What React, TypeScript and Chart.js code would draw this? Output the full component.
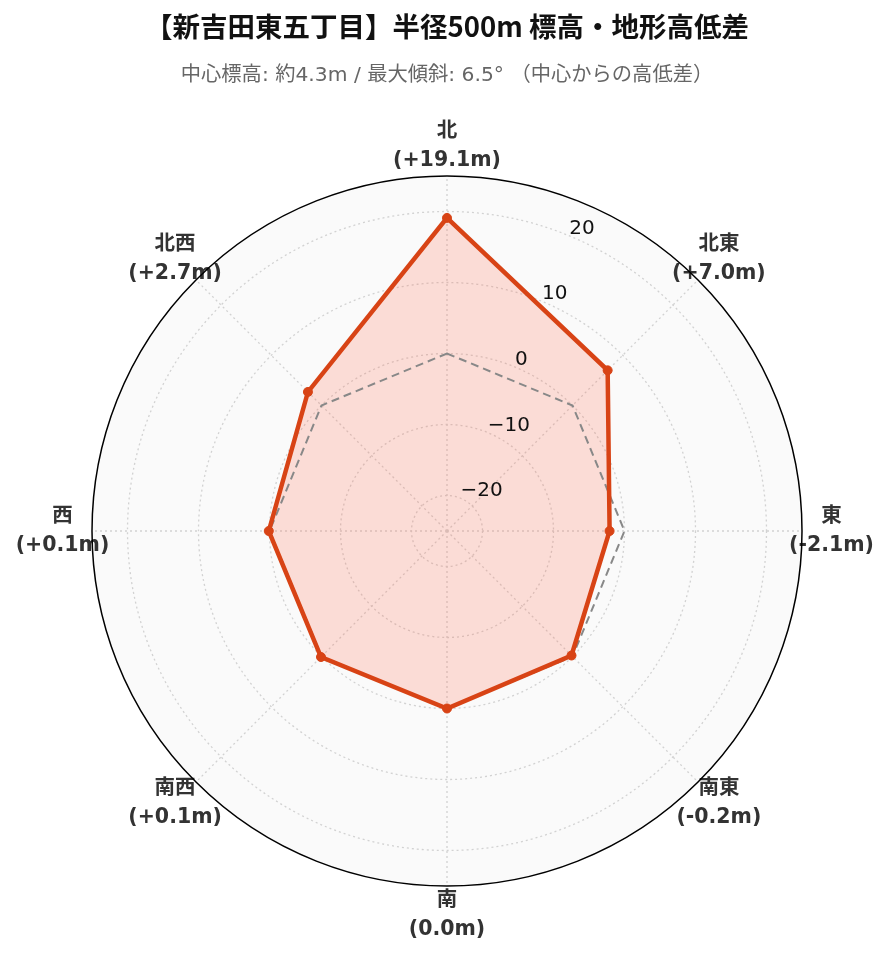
import React, { useEffect, useRef } from 'react';
import { Chart, registerables } from 'chart.js';

Chart.register(...registerables);

const titleText = '【新吉田東五丁目】半径500m 標高・地形高低差';
const subtitleText = '中心標高: 約4.3m / 最大傾斜: 6.5° （中心からの高低差）';
const directions = ['北', '北東', '東', '南東', '南', '南西', '西', '北西'];
const elevationDiff = [19.1, 7.0, -2.1, -0.2, 0.0, 0.1, 0.1, 2.7];
const centerReference = [0, 0, 0, 0, 0, 0, 0, 0];
const radialTicks = [-20, -10, 0, 10, 20];
const radialMin = -25;
const radialMax = 25;

const fmtTick = (v: number) => (v < 0 ? '\u2212' + Math.abs(v) : String(v));
const fmtDiff = (v: number) => `(${v > 0 ? '+' : ''}${v.toFixed(1)}m)`;

const polarDecor = {
  id: 'polarDecor',
  beforeDraw(chart: any) {
    const s = chart.scales.r;
    const ctx = chart.ctx;
    const R = s.getDistanceFromCenterForValue(radialMax);
    ctx.save();
    ctx.beginPath();
    ctx.arc(s.xCenter, s.yCenter, R, 0, Math.PI * 2);
    ctx.fillStyle = '#fafafa';
    ctx.fill();
    ctx.restore();
  },
  afterDatasetsDraw(chart: any) {
    const s = chart.scales.r;
    const ctx = chart.ctx;
    const R = s.getDistanceFromCenterForValue(radialMax);
    ctx.save();
    // radial tick labels along 22.5deg
    ctx.font = '20px "DejaVu Sans", sans-serif';
    ctx.fillStyle = '#111';
    ctx.textAlign = 'left';
    ctx.textBaseline = 'alphabetic';
    const tickAngle = s.getIndexAngle(0) - Math.PI / 2 + Math.PI / 8;
    radialTicks.forEach((v) => {
      const d = s.getDistanceFromCenterForValue(v);
      const x = s.xCenter + Math.cos(tickAngle) * d;
      const y = s.yCenter + Math.sin(tickAngle) * d;
      ctx.fillText(fmtTick(v), x, y - 2);
    });
    // point labels
    ctx.font = 'bold 20.5px "DejaVu Sans", "Noto Sans CJK JP", sans-serif';
    ctx.fillStyle = '#333';
    ctx.textAlign = 'center';
    ctx.textBaseline = 'middle';
    directions.forEach((name, i) => {
      const p = s.getPointPosition(i, R + 29.5);
      ctx.fillText(name, p.x, p.y - 14.5);
      ctx.fillText(fmtDiff(elevationDiff[i]), p.x, p.y + 14.5);
    });
    // outer circle
    ctx.beginPath();
    ctx.arc(s.xCenter, s.yCenter, R, 0, Math.PI * 2);
    ctx.strokeStyle = '#000';
    ctx.lineWidth = 1.5;
    ctx.stroke();
    ctx.restore();
  },
};

export default function App() {
  const ref = useRef<HTMLCanvasElement>(null);
  useEffect(() => {
    if (!ref.current) return;
    const chart = new Chart(ref.current, {
      type: 'radar',
      data: {
        labels: directions,
        datasets: [
          {
            label: '高低差',
            data: elevationDiff,
            borderColor: '#d84315',
            backgroundColor: 'rgba(255, 99, 71, 0.2)',
            borderWidth: 4.5,
            pointRadius: 4.5,
            pointBackgroundColor: '#d84315',
            pointBorderColor: '#d84315',
            pointBorderWidth: 1,
            fill: 'start',
          },
          {
            label: '中心標高',
            data: centerReference,
            borderColor: '#888888',
            borderWidth: 2,
            borderDash: [8, 5],
            pointRadius: 0,
            fill: false,
          },
        ],
      },
      options: {
        responsive: false,
        animation: false,
        layout: { padding: { left: 83, right: 78, top: 0, bottom: 67 } },
        plugins: {
          legend: { display: false },
          tooltip: { enabled: false },
          filler: { drawTime: 'beforeDatasetsDraw' },
          title: {
            display: true,
            text: titleText,
            color: '#111',
            font: { family: '"Noto Sans CJK JP", sans-serif', size: 27.5, weight: 'bold', lineHeight: 1.2 },
            padding: { top: 2.3, bottom: 0 },
          },
          subtitle: {
            display: true,
            text: subtitleText,
            color: '#666',
            font: { family: '"DejaVu Sans", "Noto Sans CJK JP", sans-serif', size: 20.3, lineHeight: 1.2 },
            padding: { top: 20.4, bottom: 88.2 },
          },
        },
        scales: {
          r: {
            min: radialMin,
            max: radialMax,
            afterBuildTicks: (sc: any) => {
              sc.ticks = radialTicks.map((v) => ({ value: v }));
            },
            ticks: { display: false, showLabelBackdrop: false },
            grid: { circular: true, color: '#d2d2d2', lineWidth: 1.3 },
            border: { dash: [2, 3] },
            angleLines: { color: '#d2d2d2', lineWidth: 1.3, borderDash: [2, 3] },
            pointLabels: { display: false },
          },
        },
      } as any,
      plugins: [polarDecor],
    });
    return () => chart.destroy();
  }, []);
  return <canvas ref={ref} width={873} height={946} style={{ display: 'block' }} />;
}
